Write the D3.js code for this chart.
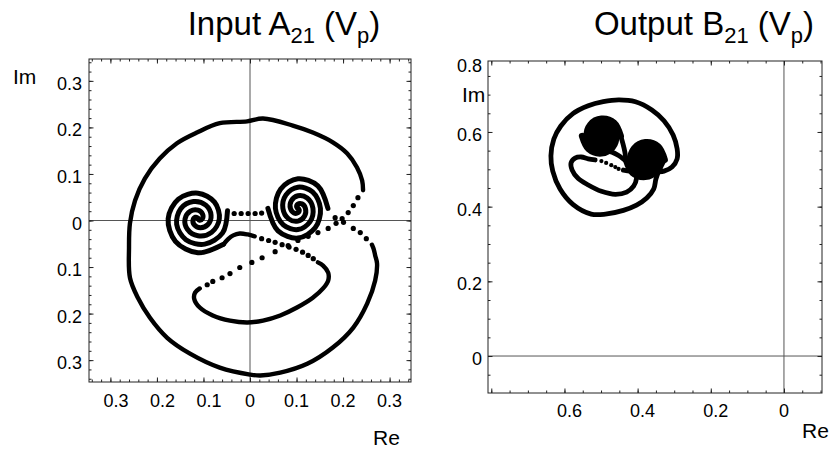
<!DOCTYPE html>
<html>
<head>
<meta charset="utf-8">
<script src="https://cdn.jsdelivr.net/npm/d3@7"></script>
<style>
  body { margin: 0; background: #fff; }
  text { font-family: "Liberation Sans", Arial, Helvetica, sans-serif; fill: #000; }
</style>
</head>
<body>
<svg id="chart" width="836" height="450"></svg>
<script>
// ---- input A21 (left plot), points as [Re, Im] ----
var inOutline = [[0.262,-0.052],[0.266,-0.062],[0.269,-0.075],[0.273,-0.092],[0.269,-0.129],[0.252,-0.178],[0.222,-0.230],
  [0.178,-0.273],[0.123,-0.308],[0.065,-0.327],[0.022,-0.333],[0.0,-0.331],[-0.065,-0.316],[-0.129,-0.286],
  [-0.178,-0.252],[-0.215,-0.209],[-0.241,-0.166],[-0.258,-0.123],[-0.260,-0.058],[-0.258,-0.006],[-0.247,0.043],
  [-0.226,0.090],[-0.194,0.133],[-0.157,0.166],[-0.114,0.189],[-0.065,0.209],[-0.006,0.213],[0.028,0.219],
  [0.092,0.204],[0.135,0.189],[0.178,0.168],[0.209,0.144],[0.230,0.114],[0.241,0.086],[0.243,0.065]]
var inCrossDown = [[0.232,0.049],[0.222,0.032],[0.211,0.017],[0.198,0.004],[0.185,-0.006],[0.168,-0.017],[0.146,-0.026],
  [0.125,-0.034],[0.103,-0.043],[0.082,-0.054],[0.054,-0.067],[0.026,-0.080],[0.004,-0.090],[-0.022,-0.101],
  [-0.043,-0.114],[-0.060,-0.123],[-0.080,-0.131],[-0.092,-0.138]]
var inMouth = [[-0.108,-0.146],[-0.118,-0.155],[-0.120,-0.168],[-0.108,-0.187],[-0.080,-0.204],[-0.043,-0.215],
  [-0.006,-0.219],[0.028,-0.215],[0.065,-0.204],[0.101,-0.187],[0.135,-0.166],[0.157,-0.146],[0.168,-0.129],
  [0.168,-0.112],[0.157,-0.097],[0.146,-0.090]]
var inLipDots = [[0.136,-0.082],[0.125,-0.075],[0.113,-0.068],[0.099,-0.062],[0.084,-0.057],[0.069,-0.052],
  [0.054,-0.047],[0.040,-0.043],[0.025,-0.039]]
var inLip = [[0.010,-0.034],[-0.005,-0.030],[-0.022,-0.028],[-0.036,-0.032],[-0.047,-0.040],[-0.0569,-0.0511]]
var inLeftEyeOut = [[-0.0569,-0.0511],[-0.1118,-0.0694],[-0.1603,-0.0447],[-0.1759,0.0038],[-0.1539,0.0459],
  [-0.1118,0.0587],[-0.0762,0.0394],[-0.0659,0.0038],[-0.0825,-0.0255],[-0.1118,-0.0329],[-0.1345,-0.0189],
  [-0.1395,0.0038],[-0.1281,0.0201],[-0.1118,0.0223],[-0.1019,0.0137],[-0.1024,0.0038],[-0.1084,0.0004],[-0.1118,0.0038]]
var inLeftEyeIn = [[-0.1118,0.0038],[-0.1123,0.0055],[-0.1173,0.0070],[-0.1224,0.0010],[-0.1196,-0.0096],
  [-0.1066,-0.0155],[-0.0904,-0.0085],[-0.0837,0.0114],[-0.0950,0.0330],[-0.1217,0.0408],[-0.1489,0.0253],
  [-0.1576,-0.0085],[-0.1378,-0.0412],[-0.0972,-0.0508],[-0.0589,-0.0267],[-0.0484,0.0208]]
var inNoseDots = [[-0.034,0.015],[-0.019,0.015],[-0.004,0.015],[0.011,0.015],[0.025,0.016]]
var inRightEyeA = [[0.0385,0.026],[0.0602,-0.0224],[0.103,-0.0377],[0.14,-0.0158],[0.1514,0.026],[0.1344,0.0615],
  [0.103,0.0715],[0.0773,0.055],[0.0707,0.026],[0.0831,0.0035],[0.103,-0.0013],[0.1173,0.0098],[0.1191,0.026],
  [0.1116,0.0357],[0.103,0.0352],[0.1002,0.0292],[0.103,0.026]]
var inRightEyeB = [[0.103,0.026],[0.1058,0.0228],[0.103,0.0168],[0.0944,0.0163],[0.0869,0.026],[0.0887,0.0422],
  [0.103,0.0533],[0.1229,0.0485],[0.1353,0.026],[0.1287,-0.003],[0.103,-0.0195],[0.0716,-0.0095],[0.0546,0.026],
  [0.066,0.0678],[0.103,0.0897],[0.1458,0.0744],[0.1675,0.026]]
var inCrossUp = [[0.183,0.006],[0.201,-0.004],[0.222,-0.017],[0.237,-0.026],[0.250,-0.039]]

// ---- output B21 (right plot) ----
var outOutline = [[-0.3261,0.526],[-0.335,0.510],[-0.342,0.495],[-0.350,0.474],[-0.356,0.447],[-0.375,0.423],
  [-0.403,0.404],[-0.439,0.390],[-0.488,0.380],[-0.527,0.380],[-0.577,0.406],[-0.612,0.447],[-0.632,0.495],
  [-0.637,0.536],[-0.629,0.581],[-0.610,0.616],[-0.577,0.649],[-0.535,0.670],[-0.494,0.681],[-0.452,0.686],
  [-0.406,0.681],[-0.361,0.659],[-0.328,0.630],[-0.303,0.592],[-0.292,0.555],[-0.292,0.528],[-0.306,0.506],
  [-0.328,0.495],[-0.348,0.493],[-0.370,0.490],[-0.394,0.493],[-0.419,0.495],[-0.439,0.498]]
var outMouthDots = [[-0.452,0.501],[-0.461,0.506],[-0.472,0.511],[-0.486,0.517],[-0.499,0.522]]
var outMouth = [[-0.516,0.525],[-0.535,0.528],[-0.554,0.533],[-0.571,0.530],[-0.582,0.517],[-0.579,0.498],
  [-0.563,0.476],[-0.535,0.458],[-0.499,0.441],[-0.461,0.433],[-0.430,0.439],[-0.411,0.455],[-0.403,0.476],
  [-0.406,0.495],[-0.417,0.511]]
var outLip = [[-0.417,0.511],[-0.434,0.524],[-0.452,0.537],[-0.470,0.546],[-0.490,0.550],[-0.515,0.556],[-0.5518,0.589]]
var outLeftEyeB = [[-0.5518,0.589],[-0.534,0.554],[-0.499,0.5428],[-0.4686,0.5586],[-0.4594,0.589],[-0.4733,0.6147],
  [-0.499,0.622],[-0.52,0.61],[-0.5254,0.589],[-0.5153,0.5727],[-0.499,0.5692],[-0.4872,0.5772],[-0.4858,0.589],
  [-0.4919,0.5961],[-0.499,0.5956],[-0.5014,0.5914],[-0.499,0.589]]
var outLeftEyeA = [[-0.499,0.589],[-0.4966,0.5866],[-0.499,0.5824],[-0.5061,0.5819],[-0.5122,0.589],[-0.5108,0.6008],
  [-0.499,0.6088],[-0.4827,0.6053],[-0.4726,0.589],[-0.478,0.568],[-0.499,0.556],[-0.5247,0.5633],[-0.5386,0.589],
  [-0.5294,0.6194],[-0.499,0.6352],[-0.464,0.624],[-0.4462,0.589]]
var outNose = [[-0.4462,0.589],[-0.440,0.568],[-0.435,0.547],[-0.4319,0.526]]
var outRightEyeA = [[-0.4319,0.526],[-0.4141,0.4909],[-0.379,0.4797],[-0.3486,0.4956],[-0.3393,0.526],[-0.3534,0.5516],
  [-0.379,0.5591],[-0.4,0.547],[-0.4055,0.526],[-0.3953,0.5097],[-0.379,0.5061],[-0.3673,0.5143],[-0.3658,0.526],
  [-0.372,0.533],[-0.379,0.5327],[-0.3813,0.5283],[-0.379,0.526]]
var outRightEyeB = [[-0.379,0.526],[-0.3767,0.5237],[-0.379,0.5193],[-0.386,0.519],[-0.3922,0.526],[-0.3907,0.5377],
  [-0.379,0.5459],[-0.3627,0.5423],[-0.3525,0.526],[-0.358,0.505],[-0.379,0.4929],[-0.4046,0.5004],[-0.4187,0.526],
  [-0.4094,0.5564],[-0.379,0.5723],[-0.3439,0.5611],[-0.3261,0.526]]

// ---- ticks / labels ----
var inTickVals = [-0.3, -0.2, -0.1, 0, 0.1, 0.2, 0.3]
var inTickText = ["0.3", "0.2", "0.1", "0", "0.1", "0.2", "0.3"]
var outXTickVals = [-0.6, -0.4, -0.2, 0]
var outXTickText = ["0.6", "0.4", "0.2", "0"]
var outYTickVals = [0, 0.2, 0.4, 0.6, 0.8]
var outYTickText = ["0", "0.2", "0.4", "0.6", "0.8"]

var svg = d3.select("#chart")
svg.append("rect").attr("width", 836).attr("height", 450).attr("fill", "#fff")

var xIn = d3.scaleLinear().domain([-0.346, 0.346]).range([89, 411])
var yIn = d3.scaleLinear().domain([-0.347, 0.347]).range([382, 59])
var xOut = d3.scaleLinear().domain([-0.809, 0.104]).range([488, 822])
var yOut = d3.scaleLinear().domain([-0.099, 0.790]).range([393, 61])

function frame(x, y, minorX, majorX, minorY, majorY) {
    var g = svg.append("g")
    var x0 = x.range()[0], x1 = x.range()[1], y0 = y.range()[1], y1 = y.range()[0]
    // zero lines
    g.append("line").attr("x1", x0).attr("x2", x1).attr("y1", y(0)).attr("y2", y(0))
        .attr("stroke", "#555").attr("stroke-width", 1)
    g.append("line").attr("x1", x(0)).attr("x2", x(0)).attr("y1", y0).attr("y2", y1)
        .attr("stroke", "#555").attr("stroke-width", 1)
    var sets = [[minorX, minorY, 2.5], [majorX, majorY, 4.5]]
    sets.forEach(function(s) {
        var ax = [
            [d3.axisBottom(x).tickValues(s[0]), "translate(0," + y1 + ")"],
            [d3.axisTop(x).tickValues(s[0]), "translate(0," + y0 + ")"],
            [d3.axisLeft(y).tickValues(s[1]), "translate(" + x0 + ",0)"],
            [d3.axisRight(y).tickValues(s[1]), "translate(" + x1 + ",0)"]
        ]
        ax.forEach(function(a) {
            var sel = g.append("g").attr("transform", a[1])
                .call(a[0].tickSizeInner(-s[2]).tickSizeOuter(0).tickFormat(""))
            sel.select(".domain").remove()
            sel.selectAll("line").attr("stroke", "#222")
        })
    })
    g.append("rect").attr("x", x0).attr("y", y0).attr("width", x1 - x0).attr("height", y1 - y0)
        .attr("fill", "none").attr("stroke", "#222").attr("stroke-width", 1)
}

var minorIn = d3.range(-34, 35, 2).map(function(v) { return v / 100 })
frame(xIn, yIn, minorIn, inTickVals, minorIn, inTickVals)
var minorOutX = d3.range(-80, 11, 5).map(function(v) { return v / 100 })
var minorOutY = d3.range(-5, 80, 5).map(function(v) { return v / 100 })
frame(xOut, yOut, minorOutX, [-0.8, -0.6, -0.4, -0.2, 0], minorOutY, [0, 0.2, 0.4, 0.6])

// tick labels (negative labels sit a little to the right: the minus sign is missing)
svg.append("g").selectAll("text").data(inTickVals).enter().append("text")
    .attr("x", function(d) { return xIn(d) + (d < 0 ? 5.5 : 0) })
    .attr("y", 407).attr("text-anchor", "middle").attr("font-size", 18)
    .text(function(d, i) { return inTickText[i] })
svg.append("g").selectAll("text").data(inTickVals).enter().append("text")
    .attr("x", 82).attr("y", function(d) { return yIn(d) + 9 })
    .attr("text-anchor", "end").attr("font-size", 18)
    .text(function(d, i) { return inTickText[i] })
svg.append("g").selectAll("text").data(outXTickVals).enter().append("text")
    .attr("x", function(d) { return xOut(d) + (d < 0 ? 5 : 0) })
    .attr("y", 417).attr("text-anchor", "middle").attr("font-size", 18)
    .text(function(d, i) { return outXTickText[i] })
svg.append("g").selectAll("text").data(outYTickVals).enter().append("text")
    .attr("x", 482).attr("y", function(d) { return Math.max(yOut(d) + 9, 72) })
    .attr("text-anchor", "end").attr("font-size", 18)
    .text(function(d, i) { return outYTickText[i] })

// axis names
svg.append("text").attr("x", 13).attr("y", 84).attr("font-size", 21).text("Im")
svg.append("text").attr("x", 373).attr("y", 445).attr("font-size", 21).text("Re")
svg.append("text").attr("x", 462).attr("y", 102).attr("font-size", 21).text("Im")
svg.append("text").attr("x", 802).attr("y", 438).attr("font-size", 21).text("Re")

// titles
function title(cx, main) {
    var t = svg.append("text").attr("x", cx).attr("y", 35).attr("text-anchor", "middle").attr("font-size", 33)
    t.append("tspan").text(main)
    t.append("tspan").attr("font-size", 22).attr("dy", 8).text("21")
    t.append("tspan").attr("dy", -8).text(" (V")
    t.append("tspan").attr("font-size", 22).attr("dy", 8).text("p")
    t.append("tspan").attr("dy", -8).text(")")
}
title(284, "Input A")
title(704, "Output B")

// curves
function drawSolid(x, y, data, w) {
    var line = d3.line().x(function(d) { return x(d[0]) }).y(function(d) { return y(d[1]) })
        .curve(d3.curveCatmullRom.alpha(0.5))
    svg.append("path").attr("d", line(data)).attr("fill", "none").attr("stroke", "#000")
        .attr("stroke-width", w).attr("stroke-linejoin", "round").attr("stroke-linecap", "round")
}
function drawDots(x, y, data, r) {
    svg.append("g").selectAll("circle").data(data).enter().append("circle")
        .attr("cx", function(d) { return x(d[0]) }).attr("cy", function(d) { return y(d[1]) })
        .attr("r", r).attr("fill", "#000")
}

;[inOutline, inMouth, inLip].forEach(function(s) { drawSolid(xIn, yIn, s, 4.4) })
;[inLeftEyeOut, inLeftEyeIn, inRightEyeA, inRightEyeB].forEach(function(s) { drawSolid(xIn, yIn, s, 5) })
;[inCrossDown, inLipDots, inNoseDots, inCrossUp].forEach(function(s) { drawDots(xIn, yIn, s, 2.6) })

;[outOutline, outMouth, outLip, outNose].forEach(function(s) { drawSolid(xOut, yOut, s, 4.8) })
;[outLeftEyeA, outLeftEyeB, outRightEyeA, outRightEyeB].forEach(function(s) { drawSolid(xOut, yOut, s, 6.5) })
drawDots(xOut, yOut, outMouthDots, 2.1)
</script>
</body>
</html>
